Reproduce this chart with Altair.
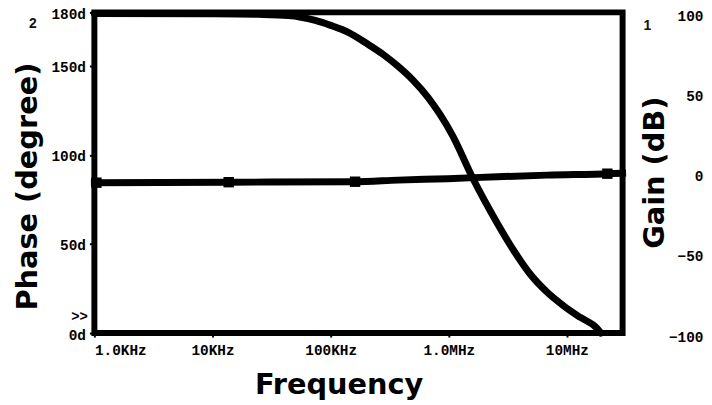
import altair as alt
import pandas as pd

# ---- data ----
freq_phase = [1.0e3, 1.0e4, 2.45e4, 4.39e4, 7.42e4, 1.0e5, 1.41e5, 2.07e5, 2.77e5,
              3.71e5, 4.97e5, 6.64e5, 8.38e5, 1.08e6, 1.59e6, 2.01e6, 2.58e6, 3.59e6,
              4.90e6, 6.81e6, 9.47e6, 1.29e7, 1.79e7, 1.94e7]
phase_deg = [179.4, 179.2, 178.9, 178.3, 175.5, 172.7, 168.8, 162.1, 156.5,
             149.8, 142.0, 132.5, 123.0, 110.7, 87.2, 74.3, 61.5, 45.8,
             33.0, 22.9, 15.1, 8.9, 2.8, 0.0]

freq_gain = [1.0e3, 1.37e4, 1.61e5, 3.71e5, 9.79e5, 2.58e6, 6.81e6, 2.31e7, 2.96e7]
gain_db = [-6.2, -5.9, -5.6, -4.6, -3.7, -2.5, -1.5, -0.6, -0.3]

marker_freq = [1.04e3, 1.37e4, 1.61e5, 2.2e7]
marker_gain = [-6.2, -5.9, -5.6, -0.6]

x_ticks = [1e3, 1e4, 1e5, 1e6, 1e7]
x_tick_labels = ["1.0KHz", "10KHz", "100KHz", "1.0MHz", "10MHz"]
phase_ticks = [0, 50, 100, 150, 180]
gain_ticks = [-100, -50, 0, 50, 100]

df_phase = pd.DataFrame({"freq": freq_phase, "phase": phase_deg})
df_gain = pd.DataFrame({"freq": freq_gain, "gain": gain_db})
df_mark = pd.DataFrame({"freq": marker_freq, "gain": marker_gain})

label_arr = "[" + ",".join("'%s'" % s for s in x_tick_labels) + "]"

x_enc = alt.X(
    "freq:Q",
    scale=alt.Scale(type="log", domain=[1e3, 2.96e7], nice=False),
    axis=alt.Axis(
        values=x_ticks,
        labelExpr=label_arr + "[round(log(datum.value)/LN10) - 3]",
        title="Frequency",
        tickSize=4, tickWidth=2, labelPadding=7, labelBaseline="top",
        titleX=246, titleY=61, titleAlign="center", titleBaseline="alphabetic",
        titleAnchor="start",
    ),
)

phase_line = alt.Chart(df_phase).mark_line(
    color="black", strokeWidth=7, strokeCap="round", strokeJoin="round",
    interpolate="monotone",
).encode(
    x=x_enc,
    y=alt.Y(
        "phase:Q",
        scale=alt.Scale(domain=[0, 180], nice=False, zero=False),
        axis=alt.Axis(
            orient="left", values=phase_ticks,
            labelExpr="datum.value + 'd'",
            title="Phase (degree)",
            tickSize=5, tickWidth=2, labelPadding=4,
            labelBaseline="top", labelOffset=-5,
            titleX=-58, titleY=175, titleAngle=270,
            titleAlign="center", titleBaseline="alphabetic",
        ),
    ),
)

y_gain = alt.Y(
    "gain:Q",
    scale=alt.Scale(domain=[-100, 100], nice=False, zero=False),
    axis=alt.Axis(
        orient="right", values=gain_ticks,
        title="Gain (dB)",
        ticks=False, tickSize=0, labelPadding=81, labelAlign="right",
        labelBaseline="top", labelOffset=-3,
        titleX=41, titleY=161, titleAngle=270,
        titleAlign="center", titleBaseline="alphabetic",
    ),
)

gain_line = alt.Chart(df_gain).mark_line(
    color="black", strokeWidth=7, strokeCap="square", interpolate="monotone"
).encode(x=x_enc, y=y_gain)

gain_marks = alt.Chart(df_mark).mark_square(
    color="black", size=110, opacity=1
).encode(x=x_enc, y=y_gain)

gain_layer = alt.layer(gain_line, gain_marks)

t2 = alt.Chart(pd.DataFrame({"t": ["2"]})).mark_text(
    text="2", font="Liberation Sans", fontSize=14, fontWeight="bold", color="#111"
).encode(x=alt.value(-62), y=alt.value(12))
t1 = alt.Chart(pd.DataFrame({"t": ["1"]})).mark_text(
    text="1", font="Liberation Sans", fontSize=14, fontWeight="bold", color="#111"
).encode(x=alt.value(557), y=alt.value(14))
tsel = alt.Chart(pd.DataFrame({"t": [">>"]})).mark_text(
    text=">>", font="Liberation Mono", fontSize=14, fontWeight="bold", color="black"
).encode(x=alt.value(-15), y=alt.value(307))

chart = alt.layer(phase_line, gain_layer, t2, t1, tsel).resolve_scale(
    y="independent"
).properties(
    width=532, height=323,
    autosize=alt.AutoSizeParams(type="none"),
    padding={"left": 87, "top": 3, "right": 82, "bottom": 68},
    background="white",
).configure_view(
    stroke="black", strokeWidth=6
).configure_axis(
    grid=False, domain=False, tickColor="black",
    labelFont="Liberation Mono", labelFontWeight="bold", labelFontSize=14.5,
    labelColor="black",
    titleFont="DejaVu Sans", titleFontWeight="bold", titleFontSize=29,
    titleColor="black",
)

chart.save("out.html", embed_options={"renderer": "svg", "actions": False})
